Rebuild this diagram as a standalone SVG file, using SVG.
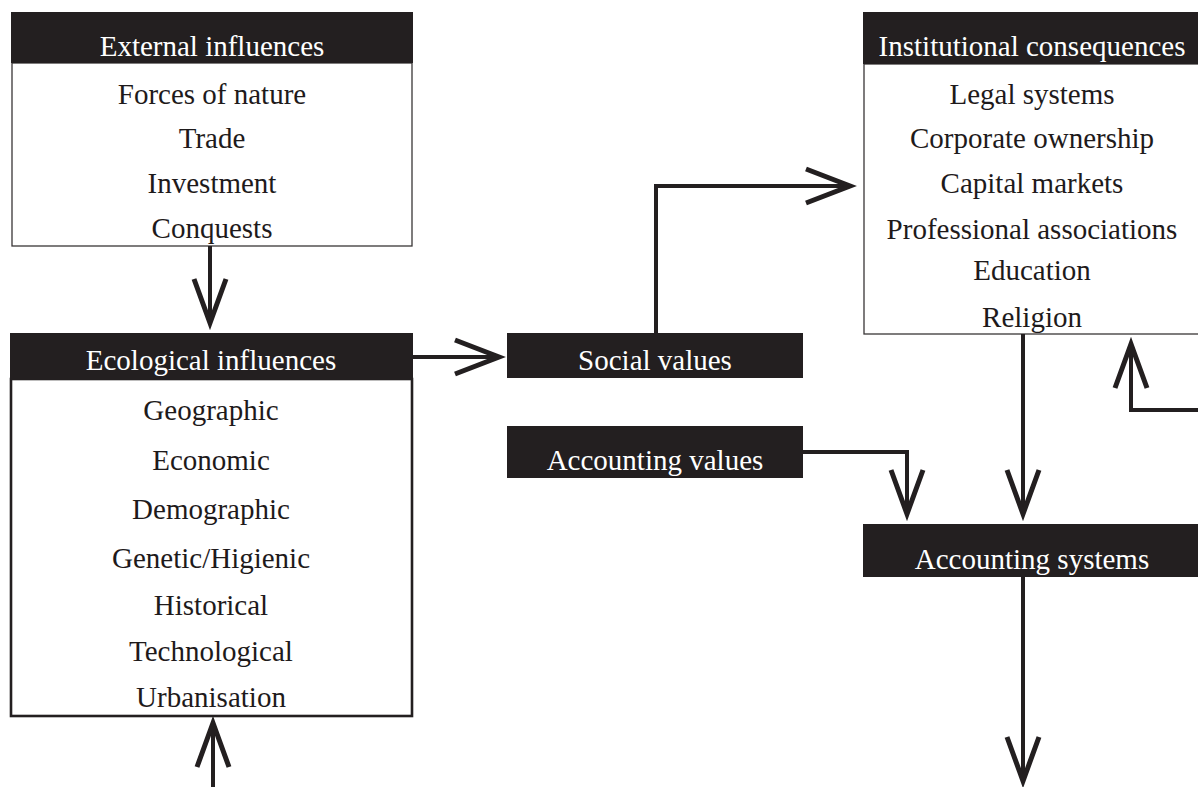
<svg xmlns="http://www.w3.org/2000/svg" width="1198" height="787" viewBox="0 0 1198 787">
<style>
.hdr{fill:#231f20}
.body{fill:#fff;stroke:#3a3637;stroke-width:1.3}
.body2{fill:#fff;stroke:#231f20;stroke-width:2.6}
text{font-family:"Liberation Serif","Times New Roman",serif;font-size:29px;text-anchor:middle;fill:#1e1a1b}
text.w{fill:#fff}
.ln{fill:none;stroke:#231f20;stroke-width:4;stroke-linejoin:miter}
.hd{fill:none;stroke:#231f20;stroke-width:5;stroke-linejoin:miter;stroke-miterlimit:10}
</style>
<rect width="1198" height="787" fill="#fff"/>
<g id="external">
<rect class="body" x="12" y="63" width="400" height="183"/>
<rect class="hdr" x="11" y="12" width="402" height="51"/>
<text class="w" x="212" y="56">External influences</text>
<text x="212" y="104">Forces of nature</text>
<text x="212" y="148">Trade</text>
<text x="212" y="193">Investment</text>
<text x="212" y="238">Conquests</text>
</g>
<g id="ecological">
<rect class="body2" x="11" y="379" width="401" height="337"/>
<rect class="hdr" x="10" y="333" width="403" height="46"/>
<text class="w" x="211" y="370">Ecological influences</text>
<text x="211" y="420">Geographic</text>
<text x="211" y="470">Economic</text>
<text x="211" y="519">Demographic</text>
<text x="211" y="568">Genetic/Higienic</text>
<text x="211" y="615">Historical</text>
<text x="211" y="661">Technological</text>
<text x="211" y="707">Urbanisation</text>
</g>
<g id="social">
<rect class="hdr" x="507" y="333" width="296" height="45"/>
<text class="w" x="655" y="370">Social values</text>
</g>
<g id="accvalues">
<rect class="hdr" x="507" y="426" width="296" height="52"/>
<text class="w" x="655" y="470">Accounting values</text>
</g>
<g id="institutional">
<rect class="body" x="864" y="64" width="340" height="270"/>
<rect class="hdr" x="863" y="12" width="340" height="52"/>
<text class="w" x="1032" y="56">Institutional consequences</text>
<text x="1032" y="104">Legal systems</text>
<text x="1032" y="148">Corporate ownership</text>
<text x="1032" y="193">Capital markets</text>
<text x="1032" y="239">Professional associations</text>
<text x="1032" y="280">Education</text>
<text x="1032" y="327">Religion</text>
</g>
<g id="accsystems">
<rect class="hdr" x="863" y="524" width="340" height="53"/>
<text class="w" x="1032" y="569">Accounting systems</text>
</g>
<g id="connectors">
<path class="ln" d="M210,246 V322"/>
<polyline class="hd" points="194,279 210,323 226,279"/>
<path class="ln" d="M213,787 V724"/>
<polyline class="hd" points="197,767 213,723 229,767"/>
<path class="ln" d="M413,357 H498"/>
<polyline class="hd" points="455,340 499,357 455,374"/>
<path class="ln" d="M656,333 V186 H848"/>
<polyline class="hd" points="806,169 850,186 806,203"/>
<path class="ln" d="M803,452 H907 V513"/>
<polyline class="hd" points="891,470 907,514 923,470"/>
<path class="ln" d="M1023,334 V513"/>
<polyline class="hd" points="1007,470 1023,514 1039,470"/>
<path class="ln" d="M1198,410 H1131 V345"/>
<polyline class="hd" points="1115,388 1131,344 1147,388"/>
<path class="ln" d="M1023,577 V780"/>
<polyline class="hd" points="1007,737 1023,781 1039,737"/>
</g>
</svg>
